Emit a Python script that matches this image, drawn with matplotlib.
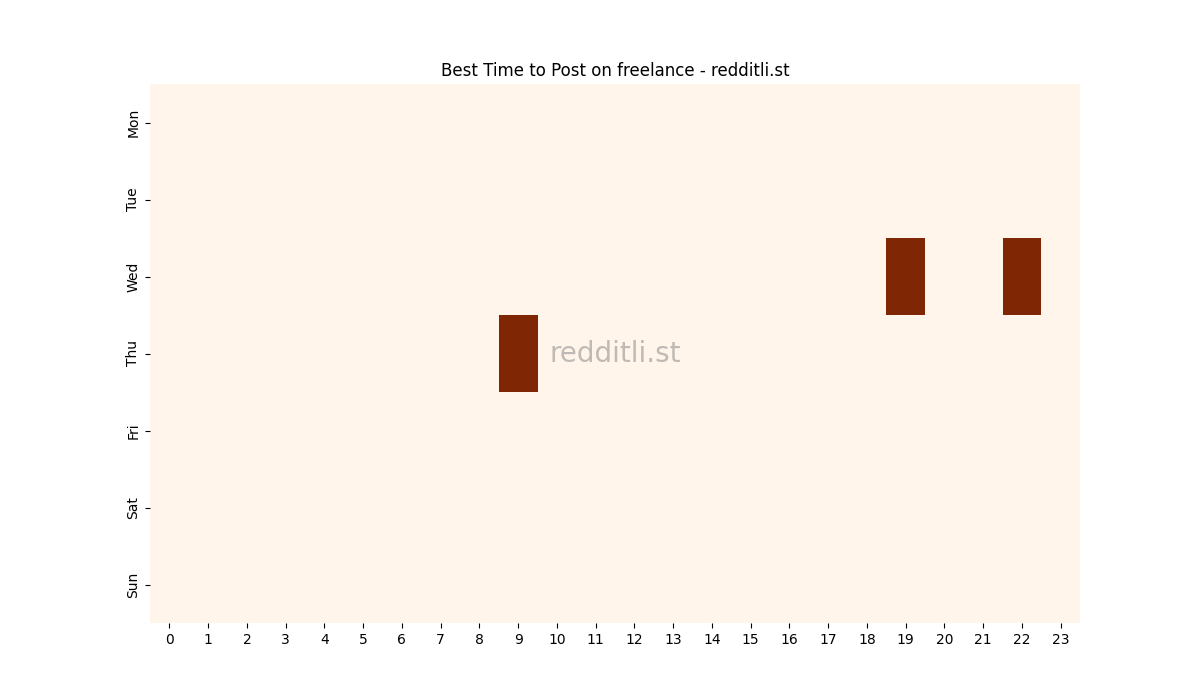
import numpy as np
import pandas as pd
import matplotlib
matplotlib.use('Agg')
import matplotlib.pyplot as plt
import seaborn as sns

DAYS = ['Mon', 'Tue', 'Wed', 'Thu', 'Fri', 'Sat', 'Sun']
HOURS = list(range(24))

# best slots (day, hour) -> score
HOT_DAYS = ['Wed', 'Wed', 'Thu']
HOT_HOURS = [19, 22, 9]
HOT_VALUES = [1, 1, 1]

def build_grid():
    grid = pd.DataFrame(0, index=DAYS, columns=HOURS)
    for d, h, v in zip(HOT_DAYS, HOT_HOURS, HOT_VALUES):
        grid.loc[d, h] = v
    return grid

def main():
    grid = build_grid()
    fig, ax = plt.subplots(figsize=(12, 7), dpi=100)
    sns.heatmap(grid, cmap='Oranges', cbar=False, ax=ax)
    ax.set_title('Best Time to Post on freelance - redditli.st')
    ax.text(0.5, 0.5, 'redditli.st', transform=ax.transAxes,
            fontsize=20, color='gray', alpha=0.5,
            ha='center', va='center')
    fig.savefig('out.png')

if __name__ == '__main__':
    main()
